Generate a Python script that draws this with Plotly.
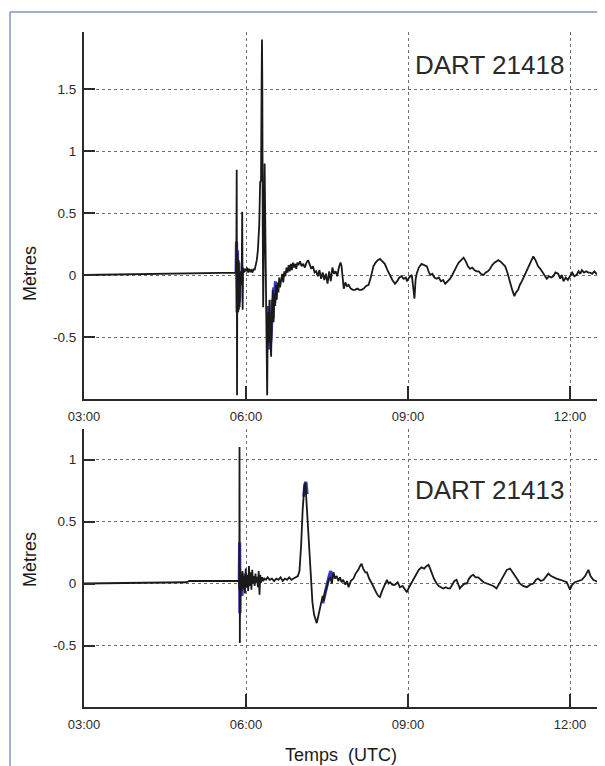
import plotly.graph_objects as go

# ---------------- data (hours UTC, metres) ----------------
tick_hours = [3, 6, 9, 12]
tick_labels = ["03:00", "06:00", "09:00", "12:00"]
top_ytick_vals = [-0.5, 0, 0.5, 1, 1.5]
top_ytick_text = ["-0.5", "0", "0.5", "1", "1.5"]
bot_ytick_vals = [-0.5, 0, 0.5, 1]
bot_ytick_text = ["-0.5", "0", "0.5", "1"]

top_name = "DART 21418"
bot_name = "DART 21413"

top_hours = [
    3.00, 3.40, 3.80, 4.20, 4.60, 5.00, 5.40, 5.70, 5.815, 5.822, 5.828, 5.834, 5.840, 5.848,
    5.856, 5.864, 5.872, 5.882, 5.892, 5.902, 5.912, 5.922, 5.930, 5.938, 5.946, 5.960, 5.980,
    6.000, 6.020, 6.040, 6.060, 6.080, 6.100, 6.120, 6.140, 6.160, 6.180, 6.200, 6.220, 6.245,
    6.262, 6.278, 6.290, 6.296, 6.302, 6.310, 6.318, 6.330, 6.345, 6.355, 6.365, 6.380, 6.392,
    6.405, 6.420, 6.435, 6.450, 6.465, 6.480, 6.495, 6.510, 6.525, 6.540, 6.555, 6.570, 6.585,
    6.600, 6.615, 6.630, 6.650, 6.670, 6.690, 6.710, 6.730, 6.750, 6.770, 6.790, 6.810, 6.830,
    6.850, 6.870, 6.890, 6.910, 6.930, 6.950, 6.970, 7.000, 7.030, 7.060, 7.090, 7.120, 7.150,
    7.180, 7.210, 7.240, 7.270, 7.300, 7.330, 7.360, 7.390, 7.420, 7.450, 7.480, 7.510, 7.540,
    7.570, 7.600, 7.630, 7.660, 7.690,
    7.72, 7.75, 7.77, 7.79, 7.81, 7.84, 7.87, 7.90, 7.94, 7.98, 8.02, 8.06, 8.10, 8.14, 8.18,
    8.22, 8.27, 8.31, 8.36, 8.40, 8.44, 8.48, 8.52, 8.57, 8.62, 8.67, 8.71, 8.76, 8.80, 8.84,
    8.88, 8.92, 8.96, 8.98, 9.02, 9.07, 9.10, 9.12, 9.14, 9.16, 9.20, 9.25, 9.30, 9.35, 9.38,
    9.41, 9.45, 9.49, 9.53, 9.57, 9.61, 9.65, 9.69, 9.74, 9.78, 9.82, 9.86, 9.90, 9.94, 9.98,
    10.03, 10.07, 10.11, 10.15, 10.19, 10.23, 10.27, 10.31, 10.35, 10.40, 10.44, 10.48, 10.52,
    10.56, 10.60, 10.64, 10.67, 10.71, 10.76, 10.80, 10.84, 10.89, 10.93, 10.97, 11.00, 11.04,
    11.07, 11.11, 11.16, 11.20, 11.24, 11.28, 11.32, 11.36, 11.41, 11.45, 11.49, 11.53, 11.57,
    11.61, 11.65, 11.69, 11.73, 11.78, 11.82, 11.85, 11.88, 11.92, 11.96, 12.00, 12.04, 12.08,
    12.12, 12.16, 12.19, 12.22, 12.26, 12.30, 12.34, 12.37, 12.41, 12.45, 12.49, 12.53, 12.56,
    12.60, 12.65,
]
top_metres = [
    0.000, 0.003, 0.000, 0.005, 0.008, 0.010, 0.015, 0.020, 0.020, 0.250, 0.850, -0.970, 0.180, -0.120,
    -0.300, 0.120, -0.220, -0.260, -0.050, 0.030, -0.080, 0.080, 0.510, -0.280, 0.060, 0.020, 0.050,
    0.030, 0.060, 0.020, 0.050, 0.030, 0.040, 0.020, 0.050, 0.040, 0.070, 0.120, 0.200, 0.400,
    0.750, 0.760, 1.600, 1.900, 1.550, 0.400, -0.260, 0.200, 0.900, 0.500, -0.150, -0.500, -0.970,
    -0.300, -0.550, -0.200, -0.480, -0.660, -0.300, -0.120, -0.380, -0.150, -0.250, -0.080, -0.200, -0.060,
    -0.140, -0.020, -0.100, -0.030, 0.010, -0.060, 0.030, -0.010, 0.060, 0.020, 0.080, 0.030, 0.090,
    0.040, 0.100, 0.060, 0.090, 0.050, 0.100, 0.080, 0.110, 0.070, 0.090, 0.060, 0.100, 0.120,
    0.080, 0.050, 0.070, 0.020, 0.030, -0.010, 0.040, -0.030, 0.020, -0.040, 0.010, -0.070, 0.030,
    -0.050, 0.060, 0.010, 0.030, -0.010,
    0.06, 0.10, 0.07, -0.02, -0.11, -0.06, -0.09, -0.08, -0.11, -0.12, -0.12, -0.11, -0.12, -0.12, -0.11,
    -0.09, -0.08, -0.02, 0.07, 0.10, 0.12, 0.13, 0.11, 0.09, 0.04, -0.01, -0.04, -0.07, -0.05, -0.02,
    -0.01, -0.03, -0.02, -0.05, -0.02, 0.00, -0.10, -0.19, -0.04, 0.01, 0.06, 0.09, 0.08, 0.07, 0.03,
    0.00, 0.01, -0.02, -0.03, -0.02, -0.05, -0.04, -0.07, -0.05, -0.03, 0.00, 0.04, 0.07, 0.10, 0.12,
    0.14, 0.11, 0.07, 0.05, 0.06, 0.04, 0.03, 0.03, 0.01, 0.00, 0.02, 0.03, 0.05,
    0.08, 0.10, 0.11, 0.12, 0.11, 0.09, 0.07, 0.02, -0.07, -0.12, -0.17, -0.14, -0.12,
    -0.08, -0.05, 0.00, 0.04, 0.07, 0.11, 0.15, 0.12, 0.07, 0.05, 0.02, 0.00, -0.03,
    -0.01, -0.02, -0.01, 0.02, 0.01, -0.03, 0.00, -0.05, -0.02, -0.04, -0.01, 0.02, -0.01,
    0.00, 0.03, 0.01, 0.04, 0.02, 0.03, 0.02, 0.02, 0.01, 0.03, 0.01, 0.02, 0.01,
    0.03, 0.03,
]

top_blue_hours = [5.818, 5.824, 5.830, 5.836, 5.842, 5.850, 5.858, 5.866, 5.874, 5.884, 5.895, None,
                  6.395, 6.410, 6.425, 6.440, 6.455, 6.470, 6.485, 6.500, 6.515, 6.530, 6.545]
top_blue_metres = [0.02, 0.27, -0.05, -0.30, 0.20, -0.20, -0.28, 0.10, -0.22, -0.18, 0.00, None,
                   -0.25, -0.45, -0.60, -0.30, -0.55, -0.45, -0.20, -0.35, -0.10, -0.22, -0.05]

bot_hours = [
    3.00, 3.40, 3.80, 4.20, 4.60, 4.90, 4.95, 5.20, 5.50, 5.80, 5.870, 5.876, 5.880, 5.886, 5.892,
    5.900, 5.910, 5.920, 5.935, 5.950, 5.965, 5.980, 5.995, 6.010, 6.025, 6.040, 6.055, 6.070,
    6.085, 6.100, 6.115, 6.130, 6.145, 6.160, 6.175, 6.190, 6.205, 6.220, 6.235, 6.250, 6.265,
    6.280, 6.300, 6.320, 6.340, 6.370, 6.400, 6.440, 6.480, 6.520, 6.560, 6.600, 6.640, 6.680,
    6.720, 6.760, 6.800, 6.840, 6.880, 6.920, 6.960, 6.990, 7.020, 7.050, 7.080, 7.100, 7.115,
    7.140, 7.170, 7.200, 7.230, 7.260, 7.290, 7.310, 7.330, 7.360, 7.390, 7.420, 7.440, 7.470,
    7.500, 7.530, 7.560, 7.590, 7.620, 7.650, 7.680, 7.710, 7.740, 7.770, 7.800, 7.840, 7.870,
    7.900, 7.940, 7.990, 8.030, 8.080, 8.110, 8.140, 8.170, 8.210, 8.240, 8.280, 8.330, 8.370,
    8.420, 8.450, 8.480, 8.520, 8.570, 8.610, 8.640, 8.670, 8.710, 8.760, 8.810, 8.850, 8.900,
    8.940, 8.980, 9.020, 9.070, 9.110, 9.160, 9.200, 9.250, 9.300, 9.340, 9.380, 9.410, 9.440,
    9.480, 9.530, 9.570, 9.610, 9.650, 9.700, 9.740, 9.780, 9.820, 9.860, 9.900, 9.930, 9.960,
    10.000, 10.050, 10.090, 10.130, 10.170, 10.210, 10.250, 10.300, 10.350, 10.400, 10.460,
    10.520, 10.580, 10.640, 10.690, 10.740, 10.790, 10.830, 10.890, 10.940, 10.980, 11.030,
    11.070, 11.130, 11.200, 11.260, 11.320, 11.370, 11.410, 11.460, 11.510, 11.560, 11.600,
    11.650, 11.690, 11.750, 11.820, 11.880, 11.940, 12.000, 12.040, 12.090, 12.150, 12.220,
    12.280, 12.340, 12.380, 12.430, 12.480, 12.530, 12.590, 12.650,
]
bot_metres = [
    0.000, 0.002, 0.003, 0.005, 0.008, 0.010, 0.020, 0.020, 0.022, 0.025, 0.020, -0.050, 1.100, -0.480, 0.120,
    -0.100, 0.080, -0.060, 0.100, -0.040, 0.060, -0.080, 0.120, -0.030, 0.070, -0.060, 0.140, -0.020,
    0.090, -0.050, 0.110, 0.000, 0.060, -0.020, 0.080, 0.010, 0.050, -0.030, 0.100, -0.090, 0.070,
    0.010, 0.050, 0.020, 0.040, 0.030, 0.050, 0.030, 0.040, 0.020, 0.040, 0.030, 0.050, 0.020,
    0.040, 0.030, 0.050, 0.030, 0.040, 0.050, 0.060, 0.100, 0.300, 0.600, 0.780, 0.810, 0.700,
    0.450, 0.200, 0.020, -0.150, -0.250, -0.300, -0.320, -0.280, -0.220, -0.180, -0.100, -0.140, -0.060,
    -0.020, 0.030, 0.050, 0.000, 0.090, 0.040, 0.060, 0.020, 0.050, 0.010, 0.030, -0.010, 0.020,
    -0.030, 0.020, 0.040, 0.080, 0.110, 0.140, 0.160, 0.120, 0.090, 0.090, 0.040, 0.000, -0.040,
    -0.080, -0.100, -0.110, -0.060, -0.010, 0.030, 0.000, 0.010, -0.010, -0.010, 0.010, -0.030, -0.020,
    -0.050, -0.070, -0.030, 0.010, 0.050, 0.090, 0.110, 0.130, 0.120, 0.140, 0.150, 0.120, 0.080,
    0.040, 0.000, -0.020, -0.030, -0.040, -0.030, -0.040, -0.040, -0.010, 0.020, 0.030, -0.010, -0.040,
    -0.020, 0.000, 0.000, 0.040, 0.060, 0.070, 0.050, 0.050, 0.030, 0.010, 0.000,
    -0.010, -0.020, -0.040, 0.000, 0.040, 0.080, 0.110, 0.120, 0.090, 0.070, 0.030,
    0.000, -0.020, -0.030, -0.010, 0.000, 0.030, 0.040, 0.020, 0.030, 0.060, 0.080,
    0.060, 0.050, 0.040, 0.030, 0.020, 0.010, -0.050, -0.010, 0.010, 0.020, 0.030,
    0.060, 0.110, 0.060, 0.030, 0.020, 0.010, 0.020, 0.010,
]

bot_blue_hours = [5.876, 5.882, 5.888, 5.895, 5.905, 5.915, 5.925, 5.94, 5.96, 5.98, 6.00, 6.02, 6.05,
                  6.08, 6.11, 6.14, 6.18, 6.22, 6.26, 6.30, None,
                  7.07, 7.09, 7.11, 7.13, None,
                  7.42, 7.45, 7.48, 7.51, 7.54, 7.57, 7.60]
bot_blue_metres = [0.02, 0.33, -0.24, 0.05, -0.08, 0.09, -0.10, 0.06, -0.05, 0.08, -0.03, 0.06, -0.02,
                   0.07, 0.00, 0.05, 0.02, 0.05, 0.01, 0.04, None,
                   0.70, 0.80, 0.82, 0.72, None,
                   -0.16, -0.10, -0.05, 0.02, 0.06, 0.10, 0.04]

# ---------------- figure ----------------
# The page body has an 8px margin, so the figure is 8px smaller and all
# reference pixel positions are shifted by -8.
OFF = 8
W, H = 605 - OFF, 766 - OFF
L = 84 - OFF
FONT = "Liberation Sans, Arial, sans-serif"
AX = "#2b2b2b"
BLUE = "#3838c8"
BLACK = "#1a1a1a"


def px_x(p):
    return (p - OFF - L) / (W - L)


def px_y(p):
    return 1 - (p - OFF) / H


fig = go.Figure()
fig.add_trace(go.Scatter(x=top_blue_hours, y=top_blue_metres, mode="lines",
                         line=dict(color=BLUE, width=3.2), xaxis="x", yaxis="y",
                         connectgaps=False, showlegend=False, hoverinfo="skip"))
fig.add_trace(go.Scatter(x=top_hours, y=top_metres, mode="lines",
                         line=dict(color=BLACK, width=1.8), xaxis="x", yaxis="y",
                         showlegend=False))
fig.add_trace(go.Scatter(x=bot_blue_hours, y=bot_blue_metres, mode="lines",
                         line=dict(color=BLUE, width=3.2), xaxis="x2", yaxis="y2",
                         connectgaps=False, showlegend=False, hoverinfo="skip"))
fig.add_trace(go.Scatter(x=bot_hours, y=bot_metres, mode="lines",
                         line=dict(color=BLACK, width=1.8), xaxis="x2", yaxis="y2",
                         showlegend=False))

xcommon = dict(range=[3, 3 + (W - L) / 54.0], domain=[0, 1], tickmode="array",
               tickvals=tick_hours, ticktext=tick_labels, ticks="inside", ticklen=13,
               tickwidth=2, tickcolor=AX, showline=True, linecolor=AX, linewidth=2,
               showgrid=True, gridcolor="#6f6f6f", gridwidth=1, griddash="dot",
               zeroline=False, tickfont=dict(family=FONT, size=13, color=AX),
               ticklabelstandoff=4, fixedrange=True)
ycommon = dict(tickmode="array", ticks="inside", ticklen=11, tickwidth=2, tickcolor=AX,
               showline=True, linecolor=AX, linewidth=2, showgrid=True,
               gridcolor="#6f6f6f", gridwidth=1, griddash="dot", zeroline=False,
               tickfont=dict(family=FONT, size=13.5, color=AX), ticklabelstandoff=3,
               fixedrange=True)

fig.update_layout(
    width=W, height=H,
    margin=dict(l=L, r=0, t=0, b=0),
    paper_bgcolor="white", plot_bgcolor="white",
    showlegend=False,
    xaxis=dict(xcommon, anchor="y"),
    yaxis=dict(ycommon, domain=[px_y(399), px_y(32)], range=[-1.0, 1.96], anchor="x",
               tickvals=top_ytick_vals, ticktext=top_ytick_text),
    xaxis2=dict(xcommon, anchor="y2"),
    yaxis2=dict(ycommon, domain=[px_y(707), px_y(429)], range=[-0.996, 1.246], anchor="x2",
                tickvals=bot_ytick_vals, ticktext=bot_ytick_text),
)

# outer frame (light blue border)
frame = dict(color="#7e98c0", width=1.5)
fig.add_shape(type="line", xref="paper", yref="paper", x0=px_x(10), x1=px_x(615),
              y0=px_y(12), y1=px_y(12), line=frame)
fig.add_shape(type="line", xref="paper", yref="paper", x0=px_x(10), x1=px_x(10),
              y0=px_y(12), y1=px_y(780), line=frame)

ann_font_big = dict(family=FONT, size=26, color="#2a2a2a")
ann_font_lab = dict(family=FONT, size=18, color="#1a1a1a")
common_ann = dict(xref="paper", yref="paper", showarrow=False, xanchor="center", yanchor="middle")
fig.add_annotation(text=top_name, x=px_x(489), y=px_y(65), font=ann_font_big,
                   bgcolor="white", **common_ann)
fig.add_annotation(text=bot_name, x=px_x(489), y=px_y(490), font=ann_font_big,
                   bgcolor="white", **common_ann)
fig.add_annotation(text="Mètres", x=px_x(30), y=px_y(274), textangle=-90, font=ann_font_lab,
                   **common_ann)
fig.add_annotation(text="Mètres", x=px_x(30), y=px_y(560), textangle=-90, font=ann_font_lab,
                   **common_ann)
fig.add_annotation(text="Temps\u00a0\u00a0(UTC)", x=px_x(341), y=px_y(755),
                   font=dict(family=FONT, size=18, color="#1a1a1a"), **common_ann)

fig.write_html("out.html", config={"displayModeBar": False})
